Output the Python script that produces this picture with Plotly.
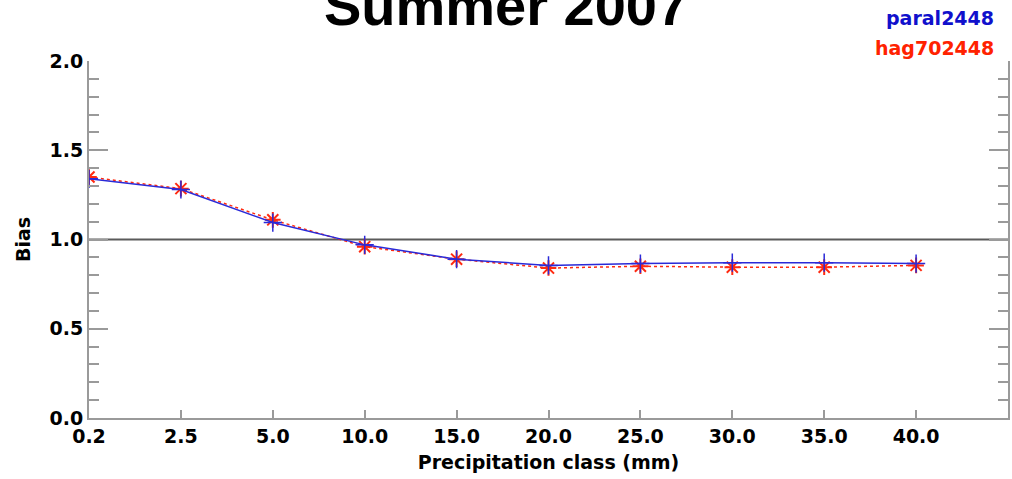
import plotly.graph_objects as go

categories = ["0.2", "2.5", "5.0", "10.0", "15.0", "20.0", "25.0", "30.0", "35.0", "40.0"]
paral2448 = [1.34, 1.28, 1.095, 0.97, 0.89, 0.855, 0.865, 0.87, 0.87, 0.865]
hag702448 = [1.35, 1.285, 1.11, 0.96, 0.89, 0.84, 0.85, 0.845, 0.845, 0.855]
y_ticks = [0.0, 0.5, 1.0, 1.5, 2.0]
reference_bias = 1.0

xpos = list(range(len(categories)))
FONT = "DejaVu Sans"
BLUE = "#2a2ad8"
RED = "#ff2a10"
AXIS = "#9a9a9a"

fig = go.Figure()
fig.add_trace(go.Scatter(
    x=xpos, y=hag702448, mode="lines+markers", name="hag702448",
    line=dict(color=RED, width=1.5, dash="dot"),
    marker=dict(symbol="asterisk-open", size=13, color=RED, line=dict(color=RED, width=2)),
))
fig.add_trace(go.Scatter(
    x=xpos, y=paral2448, mode="lines+markers", name="paral2448",
    line=dict(color=BLUE, width=1.5),
    marker=dict(symbol="cross-thin-open", size=13, color=BLUE, line=dict(color=BLUE, width=1.5)),
))

fig.add_shape(type="line", xref="paper", x0=0, x1=1, yref="y", y0=reference_bias, y1=reference_bias,
              line=dict(color="#5a5a5a", width=2), layer="below")

fig.update_layout(
    width=1012, height=479,
    margin=dict(l=89, r=2, t=61, b=61),
    paper_bgcolor="white", plot_bgcolor="white",
    showlegend=False,
    font=dict(family=FONT, size=19, color="black"),
    title=dict(text="<b>Summer 2007</b>", x=0.5, xanchor="center", y=0.988, yanchor="middle",
               font=dict(family="Liberation Sans", size=56, color="black")),
    xaxis=dict(
        range=[0, 10], tickmode="array", tickvals=xpos, ticktext=[f"<b>{c}</b>" for c in categories],
        showgrid=False, zeroline=False, showline=True, linecolor=AXIS, linewidth=2,
        ticks="inside", ticklen=8, tickcolor=AXIS, tickwidth=1.5, mirror=False,
        title=dict(text="<b>Precipitation class (mm)</b>", standoff=10, font=dict(size=19)),
        tickfont=dict(size=19),
    ),
    yaxis=dict(
        range=[0, 2], tickmode="array", tickvals=y_ticks, ticktext=[f"<b>{v:.1f}</b>" for v in y_ticks],
        showgrid=False, zeroline=False, showline=True, linecolor=AXIS, linewidth=2,
        ticks="inside", ticklen=19, tickcolor=AXIS, tickwidth=1.5, mirror="ticks",
        minor=dict(dtick=0.1, ticks="inside", ticklen=10, tickcolor=AXIS, tickwidth=1.5),
        title=dict(text="<b>Bias</b>", standoff=14, font=dict(size=19)),
        tickfont=dict(size=19),
    ),
)

fig.add_annotation(text="<b>paral2448</b>", xref="paper", yref="paper", x=0.987, y=1.12,
                   xanchor="right", yanchor="middle", showarrow=False,
                   font=dict(family=FONT, size=19, color="#1010cc"))
fig.add_annotation(text="<b>hag702448</b>", xref="paper", yref="paper", x=0.987, y=1.036,
                   xanchor="right", yanchor="middle", showarrow=False,
                   font=dict(family=FONT, size=19, color="#ff2200"))

fig.write_html("out.html")
